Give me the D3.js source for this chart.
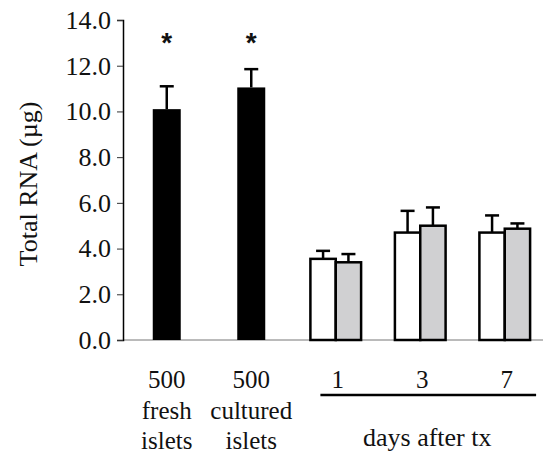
<!DOCTYPE HTML>
<html>
<head>
<meta charset="utf-8">
<script src="https://cdn.jsdelivr.net/npm/d3@7"></script>
</head>
<body style="margin:0">
<script>
  // data
  var categories = ["fresh", "cultured", "day1", "day3", "day7"];
  var islets = [
    {cat: "fresh", value: 10.1, err: 11.1, label: ["500", "fresh", "islets"]},
    {cat: "cultured", value: 11.05, err: 11.85, label: ["500", "cultured", "islets"]}
  ];
  var series = ["open", "grey"];
  var openVals = [3.55, 4.7, 4.7];
  var openErr = [3.9, 5.65, 5.45];
  var greyVals = [3.4, 5.0, 4.87];
  var greyErr = [3.76, 5.8, 5.1];
  var dayLabels = ["1", "3", "7"];
  var yTicks = [0, 2, 4, 6, 8, 10, 12, 14];

  var w = 544, h = 454;
  var svg = d3.select("body").append("svg")
    .attr("width", w)
    .attr("height", h);

  var y = d3.scaleLinear().domain([0, 14]).range([340, 20]);
  var x = d3.scaleBand().domain(categories).range([124.5, 547]).paddingInner(0.4).paddingOuter(0.2);
  var xs = d3.scaleBand().domain(series).range([0, x.bandwidth()]);

  // baseline (thin, grey) across to the right edge
  svg.append("line")
    .attr("x1", 123).attr("x2", 543)
    .attr("y1", y(0)).attr("y2", y(0))
    .attr("stroke", "#777").attr("stroke-width", 1);

  // y axis
  var yAxis = d3.axisLeft(y)
    .tickValues(yTicks)
    .tickFormat(d3.format(".1f"))
    .tickSize(6)
    .tickPadding(6);

  var ya = svg.append("g")
    .attr("transform", "translate(123,0)")
    .call(yAxis);
  ya.select(".domain").attr("stroke", "#000").attr("stroke-width", 1.5);
  ya.selectAll(".tick line").attr("stroke", "#333");
  ya.selectAll(".tick text")
    .attr("font-size", 26);

  svg.append("text")
    .attr("transform", "translate(37,184) rotate(-90)")
    .attr("text-anchor", "middle")
    .attr("font-size", 26)
    .text("Total RNA (µg)");

  // black bars for islets
  var bw = 28;
  var blk = svg.selectAll("g.islet")
    .data(islets)
    .enter()
    .append("g")
    .attr("class", "islet");

  blk.append("line")
    .attr("x1", function(d) { return x(d.cat) + x.bandwidth() / 2; })
    .attr("x2", function(d) { return x(d.cat) + x.bandwidth() / 2; })
    .attr("y1", function(d) { return y(d.value); })
    .attr("y2", function(d) { return y(d.err); })
    .attr("stroke", "#000").attr("stroke-width", 2.5);

  blk.append("line")
    .attr("x1", function(d) { return x(d.cat) + x.bandwidth() / 2 - 7; })
    .attr("x2", function(d) { return x(d.cat) + x.bandwidth() / 2 + 7; })
    .attr("y1", function(d) { return y(d.err); })
    .attr("y2", function(d) { return y(d.err); })
    .attr("stroke", "#000").attr("stroke-width", 2.5);

  blk.append("rect")
    .attr("x", function(d) { return x(d.cat) + x.bandwidth() / 2 - bw / 2; })
    .attr("width", bw)
    .attr("y", function(d) { return y(d.value); })
    .attr("height", function(d) { return y(0) - y(d.value); })
    .attr("fill", "#000");

  blk.append("text")
    .attr("class", "star")
    .attr("x", function(d) { return x(d.cat) + x.bandwidth() / 2; })
    .attr("y", 52)
    .attr("text-anchor", "middle")
    .attr("font-size", 28)
    .attr("font-weight", "bold")
    .text("*");

  blk.selectAll("text.lab")
    .data(function(d) { return d.label.map(function(t, i) { return {t: t, i: i, cat: d.cat}; }); })
    .enter()
    .append("text")
    .attr("class", "lab")
    .attr("x", function(d) { return x(d.cat) + x.bandwidth() / 2; })
    .attr("y", function(d) { return 388 + d.i * 30.5; })
    .attr("text-anchor", "middle")
    .attr("font-size", 25)
    .text(function(d) { return d.t; });

  // days after tx groups
  var days = dayLabels.map(function(lab, i) {
    return {
      cat: categories[i + 2],
      label: lab,
      bars: [
        {s: "open", value: openVals[i], err: openErr[i]},
        {s: "grey", value: greyVals[i], err: greyErr[i]}
      ]
    };
  });

  var grp = svg.selectAll("g.day")
    .data(days)
    .enter()
    .append("g")
    .attr("class", "day")
    .attr("transform", function(d) { return "translate(" + x(d.cat) + ",0)"; });

  var bars = grp.selectAll("g.bar")
    .data(function(d) { return d.bars; })
    .enter()
    .append("g")
    .attr("class", "bar");

  bars.append("line")
    .attr("x1", function(d) { return xs(d.s) + xs.bandwidth() / 2; })
    .attr("x2", function(d) { return xs(d.s) + xs.bandwidth() / 2; })
    .attr("y1", function(d) { return y(d.value); })
    .attr("y2", function(d) { return y(d.err); })
    .attr("stroke", "#000").attr("stroke-width", 2.5);

  bars.append("line")
    .attr("x1", function(d) { return xs(d.s) + xs.bandwidth() / 2 - 7; })
    .attr("x2", function(d) { return xs(d.s) + xs.bandwidth() / 2 + 7; })
    .attr("y1", function(d) { return y(d.err); })
    .attr("y2", function(d) { return y(d.err); })
    .attr("stroke", "#000").attr("stroke-width", 2.5);

  bars.append("rect")
    .attr("x", function(d) { return xs(d.s); })
    .attr("width", xs.bandwidth())
    .attr("y", function(d) { return y(d.value); })
    .attr("height", function(d) { return y(0) - y(d.value); })
    .attr("fill", function(d) { return d.s == "grey" ? "#d0d0d2" : "#fff"; })
    .attr("stroke", "#000")
    .attr("stroke-width", 2.5);

  grp.append("text")
    .attr("x", x.bandwidth() / 2 + 2)
    .attr("y", 388)
    .attr("text-anchor", "middle")
    .attr("font-size", 25)
    .text(function(d) { return d.label; });

  // underline + caption
  var first = x(categories[2]), last = x(categories[4]) + x.bandwidth();
  svg.append("line")
    .attr("x1", first + 10).attr("x2", last + 6)
    .attr("y1", 395).attr("y2", 395)
    .attr("stroke", "#000").attr("stroke-width", 2.5);

  svg.append("text")
    .attr("x", (first + last) / 2 + 7)
    .attr("y", 446)
    .attr("text-anchor", "middle")
    .attr("font-size", 26)
    .text("days after tx");

  // serif font everywhere
  svg.selectAll("text")
    .style("font-family", "'Liberation Serif'")
    .attr("fill", "#111");
  svg.selectAll("text.star").style("font-family", "'Liberation Sans'");
</script>
</body>
</html>
